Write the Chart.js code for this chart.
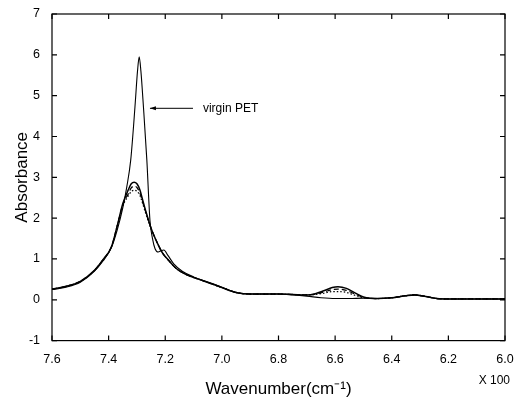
<!DOCTYPE html>
<html>
<head>
<meta charset="utf-8">
<script src="https://cdn.jsdelivr.net/npm/chart.js@4.4.1/dist/chart.umd.min.js"></script>
<style>
  html, body { margin: 0; padding: 0; background: #fff; }
  #wrap { width: 514px; height: 402px; }
</style>
</head>
<body>
<div id="wrap"><canvas id="spectrum" width="514" height="402"></canvas></div>
<script>
'use strict';

// Wavenumber positions (x 100 cm-1) for the three treated samples
var sampleX = [7.6, 7.55, 7.5, 7.45, 7.42, 7.39, 7.37, 7.35, 7.33, 7.32, 7.31, 7.30, 7.29, 7.28, 7.27,
  7.25, 7.23, 7.21, 7.19, 7.16, 7.12, 7.08, 7.04, 7.0, 6.95, 6.9, 6.85, 6.8, 6.75, 6.7, 6.67, 6.64,
  6.61, 6.59, 6.56, 6.53, 6.5, 6.45, 6.4, 6.35, 6.32, 6.28, 6.24, 6.2, 6.1, 6.0];
var sampleA = [0.26, 0.33, 0.45, 0.72, 0.98, 1.3, 1.8, 2.35, 2.7, 2.84, 2.88, 2.84, 2.7, 2.45, 2.2,
  1.75, 1.42, 1.15, 0.98, 0.76, 0.6, 0.5, 0.4, 0.3, 0.18, 0.14, 0.14, 0.14, 0.13, 0.12, 0.15, 0.22,
  0.3, 0.32, 0.28, 0.17, 0.07, 0.03, 0.05, 0.1, 0.12, 0.08, 0.03, 0.02, 0.02, 0.02];
var sampleB = [0.26, 0.33, 0.45, 0.72, 0.98, 1.3, 1.8, 2.33, 2.6, 2.74, 2.78, 2.75, 2.62, 2.4, 2.17,
  1.75, 1.42, 1.15, 0.98, 0.76, 0.6, 0.5, 0.4, 0.3, 0.18, 0.14, 0.14, 0.14, 0.13, 0.12, 0.14, 0.19,
  0.25, 0.26, 0.23, 0.14, 0.06, 0.03, 0.05, 0.1, 0.12, 0.08, 0.03, 0.02, 0.02, 0.02];
var sampleC = [0.26, 0.33, 0.45, 0.72, 0.98, 1.3, 1.8, 2.3, 2.55, 2.65, 2.68, 2.66, 2.56, 2.36, 2.14,
  1.74, 1.42, 1.15, 0.98, 0.76, 0.6, 0.5, 0.4, 0.3, 0.18, 0.14, 0.14, 0.14, 0.13, 0.12, 0.13, 0.16,
  0.2, 0.2, 0.18, 0.11, 0.05, 0.03, 0.05, 0.1, 0.12, 0.08, 0.03, 0.02, 0.02, 0.02];

// Virgin PET, sampled more densely around the sharp band
var virginX = [7.6, 7.55, 7.5, 7.45, 7.42, 7.39, 7.37, 7.35, 7.336, 7.322, 7.307, 7.298, 7.292, 7.286,
  7.277, 7.265, 7.254, 7.245, 7.236, 7.225, 7.215, 7.205, 7.19, 7.17, 7.14, 7.1, 7.06, 7.02, 6.98,
  6.94, 6.9, 6.85, 6.8, 6.75, 6.7, 6.65, 6.6, 6.55, 6.5, 6.45, 6.4, 6.35, 6.32, 6.28, 6.24, 6.2, 6.1, 6.0];
var virginY = [0.25, 0.31, 0.43, 0.7, 0.95, 1.28, 1.7, 2.25, 2.76, 3.42, 4.72, 5.6, 5.95, 5.6,
  4.72, 3.42, 1.94, 1.5, 1.25, 1.17, 1.2, 1.22, 1.08, 0.88, 0.7, 0.56, 0.46, 0.36, 0.25,
  0.16, 0.14, 0.14, 0.14, 0.12, 0.09, 0.05, 0.03, 0.03, 0.04, 0.03, 0.05, 0.1, 0.12, 0.08, 0.03, 0.02, 0.02, 0.02];

var xTicks = [7.6, 7.4, 7.2, 7.0, 6.8, 6.6, 6.4, 6.2, 6.0];
var yTicks = [-1, 0, 1, 2, 3, 4, 5, 6, 7];

function pts(xs, ys) {
  return xs.map(function (x, i) { return { x: x, y: ys[i] }; });
}

// Box, inward ticks on all four sides, annotation and the "X 100" note.
var framePlugin = {
  id: 'frame',
  afterDraw: function (chart) {
    var ctx = chart.ctx;
    var a = chart.chartArea;
    var xs = chart.scales.x;
    var ys = chart.scales.y;
    ctx.save();
    ctx.strokeStyle = '#000';
    ctx.lineWidth = 1.2;
    ctx.strokeRect(a.left, a.top, a.right - a.left, a.bottom - a.top);
    ctx.beginPath();
    xTicks.forEach(function (v) {
      var px = xs.getPixelForValue(v);
      ctx.moveTo(px, a.bottom); ctx.lineTo(px, a.bottom - 5);
      ctx.moveTo(px, a.top); ctx.lineTo(px, a.top + 5);
    });
    yTicks.forEach(function (v) {
      var py = ys.getPixelForValue(v);
      ctx.moveTo(a.left, py); ctx.lineTo(a.left + 5, py);
      ctx.moveTo(a.right, py); ctx.lineTo(a.right - 5, py);
    });
    ctx.stroke();

    // arrow pointing at the virgin PET band
    var ay = ys.getPixelForValue(4.69);
    var tip = xs.getPixelForValue(7.254);
    var tail = xs.getPixelForValue(7.102);
    ctx.lineWidth = 1;
    ctx.beginPath();
    ctx.moveTo(tail, ay); ctx.lineTo(tip, ay);
    ctx.stroke();
    ctx.beginPath();
    ctx.moveTo(tip, ay); ctx.lineTo(tip + 6, ay - 2); ctx.lineTo(tip + 6, ay + 2); ctx.closePath();
    ctx.fillStyle = '#000';
    ctx.fill();

    ctx.font = '12px "Liberation Sans", Arial, sans-serif';
    ctx.textBaseline = 'middle';
    ctx.textAlign = 'left';
    ctx.fillText('virgin PET', xs.getPixelForValue(7.067), ay);

    ctx.textAlign = 'right';
    ctx.fillText('X 100', a.right + 5, a.bottom + 40);
    ctx.restore();
  }
};

var lineStyle = { borderColor: '#000', pointRadius: 0, fill: false, cubicInterpolationMode: 'monotone' };

new Chart(document.getElementById('spectrum'), {
  type: 'line',
  data: {
    datasets: [
      Object.assign({ label: 'virgin PET', data: pts(virginX, virginY), borderWidth: 1.1 }, lineStyle),
      Object.assign({ label: 'sample A', data: pts(sampleX, sampleA), borderWidth: 1.5 }, lineStyle),
      Object.assign({ label: 'sample B', data: pts(sampleX, sampleB), borderWidth: 1.2, borderDash: [5, 3] }, lineStyle),
      Object.assign({ label: 'sample C', data: pts(sampleX, sampleC), borderWidth: 1.2, borderDash: [1.5, 2] }, lineStyle)
    ]
  },
  options: {
    responsive: false,
    animation: false,
    layout: { padding: { left: 0, right: 9, top: 14, bottom: 2 } },
    plugins: { legend: { display: false }, tooltip: { enabled: false } },
    scales: {
      x: {
        type: 'linear',
        reverse: true,
        min: 6.0,
        max: 7.6,
        afterBuildTicks: function (s) { s.ticks = xTicks.map(function (v) { return { value: v }; }); },
        afterFit: function (s) { s.paddingLeft = 0; s.paddingRight = 0; },
        ticks: {
          color: '#000',
          font: { size: 12.5, family: '"Liberation Sans", Arial, sans-serif' },
          padding: 3,
          maxRotation: 0,
          callback: function (v) { return Number(v).toFixed(1); }
        },
        grid: { display: false },
        border: { display: false },
        title: {
          display: true,
          text: 'Wavenumber(cm\u207B\u00B9)',
          color: '#000',
          font: { size: 17, family: '"Liberation Sans", Arial, sans-serif' },
          padding: { top: 10, bottom: 0 }
        }
      },
      y: {
        min: -1,
        max: 7,
        afterBuildTicks: function (s) { s.ticks = yTicks.map(function (v) { return { value: v }; }); },
        afterFit: function (s) { s.width = 52; },
        ticks: {
          color: '#000',
          font: { size: 12.5, family: '"Liberation Sans", Arial, sans-serif' },
          padding: 4
        },
        grid: { display: false },
        border: { display: false },
        title: {
          display: true,
          text: 'Absorbance',
          color: '#000',
          font: { size: 17, family: '"Liberation Sans", Arial, sans-serif' },
          padding: { top: 12, bottom: 0 }
        }
      }
    }
  },
  plugins: [framePlugin]
});
</script>
</body>
</html>
